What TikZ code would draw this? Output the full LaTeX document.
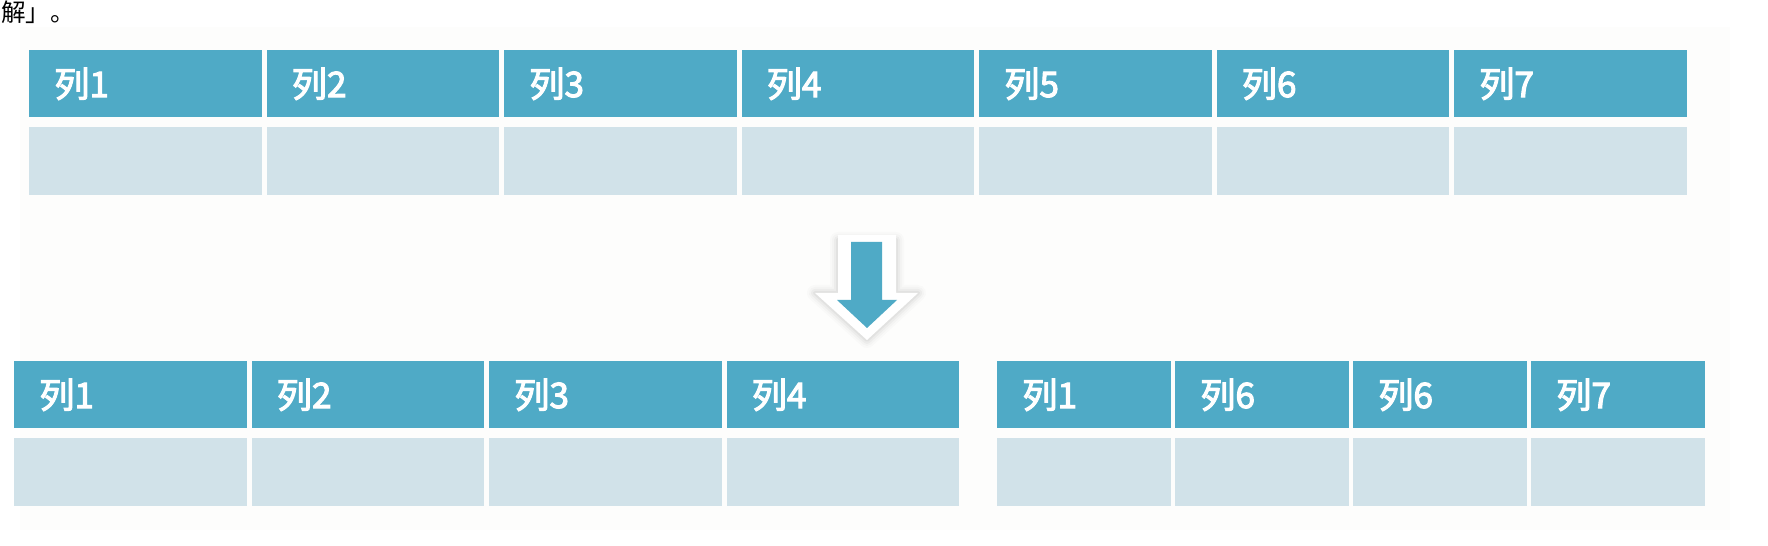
\documentclass[tikz,border=0pt]{standalone}
\usepackage{fontspec}
\usepackage{tikz}
\newfontfamily\cjk{Noto Sans CJK SC}
\newfontfamily\cjkhd[FakeBold=3]{Noto Sans CJK SC}
\definecolor{hdblue}{RGB}{79,170,198}
\definecolor{bdblue}{RGB}{209,226,233}
\definecolor{bgpale}{RGB}{253,253,252}

\begin{document}
\begin{tikzpicture}[x=0.02cm,y=-0.02cm,
  hd/.style={fill=hdblue,anchor=north west,minimum height=1.34cm,inner sep=0pt,inner xsep=0.5cm,text width=#1,align=left,text=white,font=\cjkhd\fontsize{20}{20}\selectfont},
  bd/.style={fill=bdblue,anchor=north west,minimum height=1.36cm,minimum width=#1,inner sep=0pt},
  glow/.style={draw=black,line join=round}]
\useasboundingbox (0,0) rectangle (1768,546);
\fill[bgpale] (20,27) rectangle (1730,530);
\node[anchor=base west,inner sep=0pt,font=\cjk\fontsize{14}{14}\selectfont] (note) at (1,22) {解」。};
% original table
\foreach \i in {1,...,7}{\node[hd=3.65cm] (t\i) at ({29+237.5*(\i-1)},50) {列\i};
  \node[bd=4.65cm] (tb\i) at ({29+237.5*(\i-1)},127) {};};
% split: left part
\foreach \i in {1,...,4}{\node[hd=3.65cm] (l\i) at ({14+237.5*(\i-1)},361) {列\i};
  \node[bd=4.65cm] (lb\i) at ({14+237.5*(\i-1)},438) {};};
% split: right part
\foreach \i/\c in {1/1,2/6,3/6,4/7}{\node[hd=2.48cm] (r\i) at ({997+178*(\i-1)},361) {列\c};
  \node[bd=3.48cm] (rb\i) at ({997+178*(\i-1)},438) {};};
% arrow
\foreach \w/\o in {16/0.015,12/0.02,8/0.03,4/0.04}{
  \draw[glow,line width=\w*0.02cm,opacity=\o] (838,240) -- (896,240) -- (896,293) -- (918,293) -- (867,340) -- (815,293) -- (838,293) -- cycle;};
\fill[white] (838,235) -- (896,235) -- (896,293) -- (918,293) -- (867,340) -- (815,293) -- (838,293) -- cycle;
\fill[hdblue] (851,242) -- (882,242) -- (882,300) -- (897,300) -- (867,328) -- (837,300) -- (851,300) -- cycle;
\end{tikzpicture}
\end{document}
